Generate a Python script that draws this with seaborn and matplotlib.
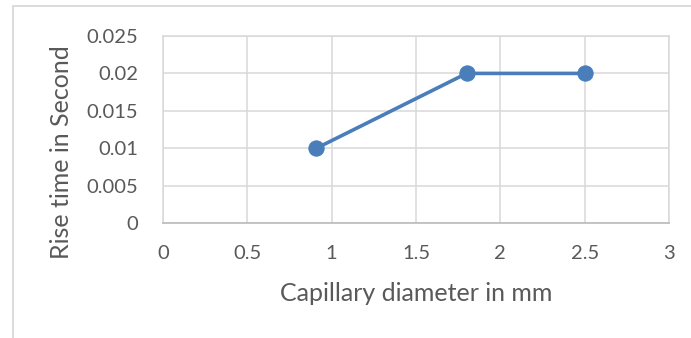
import matplotlib
matplotlib.use("Agg")
import matplotlib.pyplot as plt
from matplotlib.patches import Rectangle
import seaborn as sns
import pandas as pd

# Measured rise times for each capillary diameter
diameter_mm = [0.91, 1.8, 2.5]
rise_time_s = [0.01, 0.02, 0.02]
x_ticks = [0, 0.5, 1, 1.5, 2, 2.5, 3]
y_ticks = [0, 0.005, 0.01, 0.015, 0.02, 0.025]
y_tick_labels = ["0", "0.005", "0.01", "0.015", "0.02", "0.025"]

sns.set_theme(style="white")
plt.rcParams["font.family"] = ["Lato", "DejaVu Sans"]

text_color = "#595959"
grid_color = "#d9d9d9"
line_color = "#4a7ebb"

W, H = 691, 338
fig = plt.figure(figsize=(W / 100, H / 100), dpi=100)
fig.patch.set_facecolor("white")

# outer chart-area frame
fig.add_artist(Rectangle((13 / W, -0.1), 1.2, 1 - 6 / H + 0.1,
                         transform=fig.transFigure, fill=False,
                         edgecolor=grid_color, linewidth=1.3))

ax = fig.add_axes([163 / W, 1 - 223 / H, (669 - 163) / W, (223 - 36) / H])

df = pd.DataFrame({"diameter": diameter_mm, "rise": rise_time_s})
sns.lineplot(data=df, x="diameter", y="rise", ax=ax, color=line_color,
             linewidth=2.6, marker="o", markersize=11,
             markeredgecolor=line_color, markerfacecolor=line_color,
             zorder=3)

ax.set_xlim(0, 3)
ax.set_ylim(0, 0.025)
ax.set_xticks(x_ticks)
ax.set_xticklabels([f"{v:g}" for v in x_ticks])
ax.set_yticks(y_ticks)
ax.set_yticklabels(y_tick_labels)

ax.grid(True, color=grid_color, linewidth=1.1)
ax.set_axisbelow(True)
for side in ["top", "right", "left"]:
    ax.spines[side].set_color(grid_color)
    ax.spines[side].set_linewidth(1.1)
ax.spines["bottom"].set_color("#bfbfbf")
ax.spines["bottom"].set_linewidth(1.3)

ax.tick_params(axis="both", length=0, labelsize=14.5, labelcolor=text_color)
ax.tick_params(axis="x", pad=16)
ax.tick_params(axis="y", pad=18)

ax.set_xlabel("Capillary diameter in mm", fontsize=18, color=text_color, labelpad=14)
ax.set_ylabel("Rise time in Second", fontsize=18, color=text_color)
ax.yaxis.set_label_coords(-0.178, 0.38)

fig.savefig("out.png", dpi=100, facecolor="white")
